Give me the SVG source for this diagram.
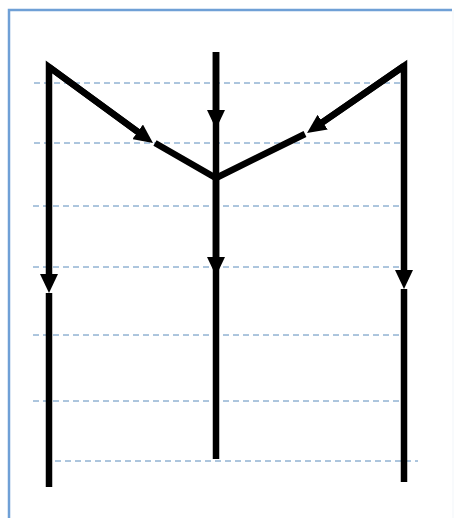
<svg xmlns="http://www.w3.org/2000/svg" width="455" height="518" viewBox="0 0 455 518">
  <style>
    .grid { stroke: #5a8cbc; stroke-width: 1; stroke-dasharray: 6 4; fill: none; }
    .wire { stroke: #000; stroke-width: 6.5; fill: none; stroke-linejoin: miter; stroke-linecap: butt; }
    .frame { stroke: #6fa0d6; stroke-width: 2.5; fill: none; }
  </style>
  <defs>
    <marker id="arrow" markerUnits="userSpaceOnUse" viewBox="0 0 19 18" markerWidth="19" markerHeight="18" refX="7" refY="9" orient="auto">
      <path d="M0,0 L19,9 L0,18 z" fill="#000"/>
    </marker>
  </defs>
  <rect width="455" height="518" fill="#fff"/>
  <g id="frame">
    <path class="frame" d="M9,518 L9,10 L452,10"/>
    <line x1="453" y1="10" x2="453" y2="518" stroke="#f1f5f9" stroke-width="1"/>
  </g>
  <g id="gridlines">
    <line class="grid" x1="34" y1="83" x2="401" y2="83"/>
    <line class="grid" x1="34" y1="143" x2="401" y2="143"/>
    <line class="grid" x1="33" y1="206" x2="401" y2="206"/>
    <line class="grid" x1="33" y1="267" x2="401" y2="267"/>
    <line class="grid" x1="33" y1="335" x2="401" y2="335"/>
    <line class="grid" x1="33" y1="401" x2="401" y2="401"/>
    <line class="grid" x1="55" y1="461" x2="418" y2="461"/>
  </g>
  <g id="connectors">
    <path class="wire" d="M143.3,135.9 L49,67 L49,281" marker-end="url(#arrow)"/>
    <path class="wire" d="M49,67 L143.3,135.9" marker-end="url(#arrow)"/>
    <line class="wire" x1="49" y1="293" x2="49" y2="487"/>
    <path class="wire" d="M155,143 L216,178 L305,134"/>
    <line class="wire" x1="216" y1="52" x2="216" y2="459"/>
    <line class="wire" x1="216" y1="52" x2="216" y2="117" marker-end="url(#arrow)"/>
    <line class="wire" x1="216" y1="178" x2="216" y2="264" marker-end="url(#arrow)"/>
    <path class="wire" d="M316.9,126.2 L404,66 L404,277" marker-end="url(#arrow)"/>
    <path class="wire" d="M404,66 L316.9,126.2" marker-end="url(#arrow)"/>
    <line class="wire" x1="404" y1="289" x2="404" y2="482"/>
  </g>
</svg>
